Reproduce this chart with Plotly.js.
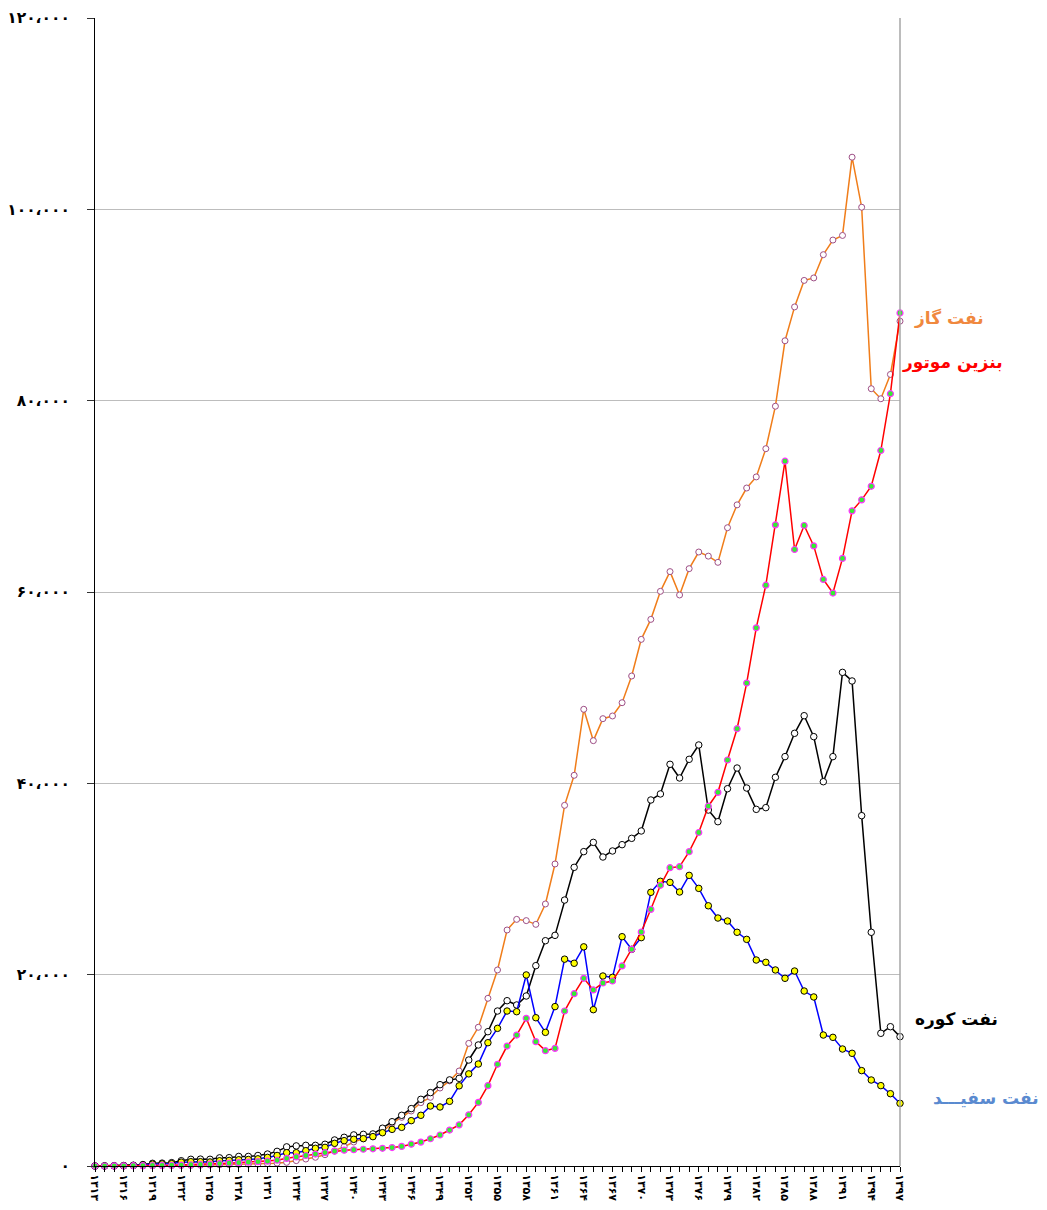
<!DOCTYPE html>
<html>
<head>
<meta charset="utf-8">
<script src="https://cdn.plot.ly/plotly-3.0.1.min.js"></script>
<style>
html,body{margin:0;padding:0;background:#fff;}
#chart{width:1047px;height:1210px;}
</style>
</head>
<body>
<div id="chart"></div>
<script>
// Years 1313..1397 (Persian solar calendar)
const years = [];
for (let y = 1313; y <= 1397; y++) years.push(y);

// نفت گاز (gas oil)
const gasOil = [0,0,0,0,10,10,20,30,40,50,60,80,100,120,140,160,180,200,250,300,
  380,560,730,910,1180,1570,2020,2510,2860,3070,3590,4460,5090,5750,6620,7180,8150,8900,9930,12820,
  14500,17530,20490,24670,25780,25650,25260,27390,31570,37700,40840,47740,44460,46760,47040,48430,51220,55050,57140,60070,
  62130,59690,62440,64180,63750,63100,66720,69110,70870,72030,74980,79420,86260,89800,92570,92830,95260,96790,97270,105450,
  100220,81250,80200,82740,88310];

// بنزین موتور (motor gasoline)
const gasoline = [0,0,10,20,30,40,50,60,80,100,130,160,200,250,300,350,400,450,500,600,
  800,950,1100,1250,1400,1550,1650,1700,1750,1800,1850,1930,2050,2280,2500,2850,3240,3760,4300,5350,
  6650,8400,10630,12540,13690,15440,13000,12060,12300,16200,18010,19620,18400,19130,19340,20910,22650,24460,26830,29340,
  31180,31290,32860,34860,37610,39060,42440,45710,50480,56260,60710,67020,73670,64440,66950,64820,61310,59890,63510,68480,
  69630,71050,74790,80730,89170];

// نفت کوره (fuel oil)
const fuelOil = [0,20,30,50,80,150,280,300,350,550,700,720,700,850,870,1000,1000,1100,1250,1530,
  2000,2100,2160,2160,2270,2720,3000,3250,3310,3350,3950,4630,5300,6000,6970,7670,8500,9000,9160,11080,
  12650,14040,16200,17280,16830,17770,20940,23550,24110,27800,31220,32860,33830,32300,32930,33590,34250,35020,38260,38890,
  41990,40560,42510,44010,37210,35990,39440,41600,39510,37280,37460,40630,42790,45230,47070,44880,40170,42790,51600,50700,
  36620,24430,13870,14560,13520];

// نفت سفید (kerosene)
const kerosene = [0,0,10,30,50,100,200,220,250,400,450,450,420,550,580,650,680,750,900,1100,
  1390,1390,1600,1850,1950,2370,2650,2790,2860,3070,3480,3830,4040,4740,5300,6270,6170,6760,8380,9630,
  10660,12890,14390,16200,16130,19970,15500,13970,16660,21620,21190,22910,16340,19860,19720,23970,22650,23870,28610,29760,
  29650,28640,30380,29020,27200,25920,25610,24430,23690,21530,21290,20490,19620,20380,18290,17670,13690,13450,12230,11780,
  9970,8990,8400,7560,6550];

const xTickVals = [1313,1316,1319,1322,1325,1328,1331,1334,1337,1340,1343,1346,1349,1352,1355,1358,1361,1364,1367,1370,1373,1376,1379,1382,1385,1388,1391,1394,1397];
const xTickLabels = ['۱۳۱۳','۱۳۱۶','۱۳۱۹','۱۳۲۲','۱۳۲۵','۱۳۲۸','۱۳۳۱','۱۳۳۴','۱۳۳۷','۱۳۴۰','۱۳۴۳','۱۳۴۶','۱۳۴۹','۱۳۵۲','۱۳۵۵','۱۳۵۸','۱۳۶۱','۱۳۶۴','۱۳۶۷','۱۳۷۰','۱۳۷۳','۱۳۷۶','۱۳۷۹','۱۳۸۲','۱۳۸۵','۱۳۸۸','۱۳۹۱','۱۳۹۴','۱۳۹۷'];
const yTickVals = [0,20000,40000,60000,80000,100000,120000];
const yTickLabels = ['۰','۲۰،۰۰۰','۴۰،۰۰۰','۶۰،۰۰۰','۸۰،۰۰۰','۱۰۰،۰۰۰','۱۲۰،۰۰۰'];

const seriesNames = ['نفت گاز','بنزین موتور','نفت کوره','نفت سفیـــد'];

const FONT = 'DejaVu Sans, Noto Sans, sans-serif';

const traces = [
  {x: years, y: gasOil, name: seriesNames[0], type: 'scatter', mode: 'lines+markers', cliponaxis: false,
   line: {color: '#F07D1A', width: 1.5},
   marker: {size: 6, color: '#FFFFFF', line: {color: '#9E4F86', width: 1}}},
  {x: years, y: fuelOil, name: seriesNames[2], type: 'scatter', mode: 'lines+markers', cliponaxis: false,
   line: {color: '#000000', width: 1.5},
   marker: {size: 6.5, color: '#FFFFFF', line: {color: '#000000', width: 1}}},
  {x: years, y: kerosene, name: seriesNames[3], type: 'scatter', mode: 'lines+markers', cliponaxis: false,
   line: {color: '#0000FF', width: 1.5},
   marker: {size: 6.5, color: '#FFFF00', line: {color: '#000000', width: 1}}},
  {x: years, y: gasoline, name: seriesNames[1], type: 'scatter', mode: 'lines+markers', cliponaxis: false,
   line: {color: '#FF0000', width: 1.5},
   marker: {size: 6, color: '#33EE33', line: {color: '#FF33FF', width: 1.2}}}
];

const layout = {
  width: 1047, height: 1210,
  margin: {l: 95, r: 147, t: 18, b: 44, pad: 0},
  paper_bgcolor: '#FFFFFF', plot_bgcolor: '#FFFFFF',
  showlegend: false,
  hovermode: false,
  font: {family: FONT, color: '#000'},
  xaxis: {
    range: [1313, 1397],
    tickmode: 'array', tickvals: xTickVals, ticktext: xTickLabels,
    tickangle: 90,
    ticks: 'outside', ticklen: 5, tickcolor: '#000', tickwidth: 1,
    showline: true, linecolor: '#000', linewidth: 1,
    showgrid: false, zeroline: false,
    tickfont: {family: FONT, size: 11, color: '#000', weight: 'bold'},
    minor: {dtick: 1, tick0: 1313, ticks: 'outside', ticklen: 5, tickcolor: '#000', tickwidth: 1, showgrid: false}
  },
  yaxis: {
    range: [0, 120000],
    tickmode: 'array', tickvals: yTickVals, ticktext: yTickLabels,
    ticks: 'outside', ticklen: 7, tickcolor: '#333', tickwidth: 1,
    showline: true, linecolor: '#000', linewidth: 1,
    showgrid: true, gridcolor: '#BDBDBD', gridwidth: 1,
    zeroline: false,
    ticklabelstandoff: 14,
    tickfont: {family: FONT, size: 15.5, color: '#000', weight: 'bold'}
  },
  shapes: [
    {type: 'line', xref: 'paper', yref: 'paper', x0: 1, x1: 1, y0: 0, y1: 1,
     line: {color: '#A6A6A6', width: 1.5}}
  ],
  annotations: [
    {text: seriesNames[0], xref: 'paper', yref: 'paper', x: 1.0603, y: 0.7387, xanchor: 'center', yanchor: 'middle', showarrow: false,
     font: {family: FONT, size: 17, color: '#F0883E', weight: 'bold'}},
    {text: seriesNames[1], xref: 'paper', yref: 'paper', x: 1.0646, y: 0.7003, xanchor: 'center', yanchor: 'middle', showarrow: false,
     font: {family: FONT, size: 17, color: '#FF0000', weight: 'bold'}},
    {text: seriesNames[2], xref: 'paper', yref: 'paper', x: 1.0708, y: 0.1272, xanchor: 'center', yanchor: 'middle', showarrow: false,
     font: {family: FONT, size: 17, color: '#000000', weight: 'bold'}},
    {text: seriesNames[3], xref: 'paper', yref: 'paper', x: 1.1068, y: 0.0592, xanchor: 'center', yanchor: 'middle', showarrow: false,
     font: {family: FONT, size: 17, color: '#5A8AD0', weight: 'bold'}}
  ]
};

Plotly.newPlot('chart', traces, layout, {displayModeBar: false, staticPlot: true});
</script>
</body>
</html>
